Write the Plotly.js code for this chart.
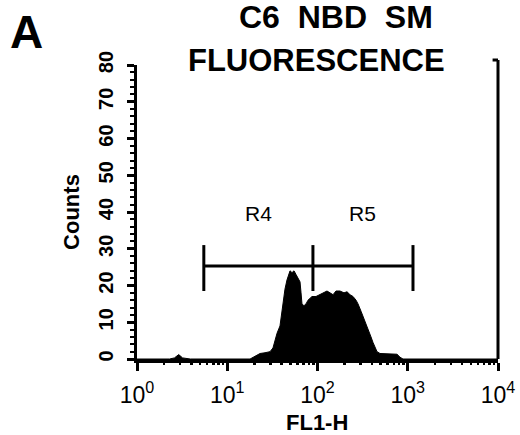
<!DOCTYPE html>
<html>
<head>
<meta charset="utf-8">
<script src="https://cdn.plot.ly/plotly-3.0.1.min.js"></script>
<style>
  html, body { margin: 0; padding: 0; background: #fff; }
  #graph { width: 520px; height: 435px; }
</style>
</head>
<body>
<div id="graph"></div>
<script>
// FL1-H channel values (log scale) and counts
const fl1h = [1, 2.3, 2.6, 2.9, 3.2, 3.9, 17.9, 20.3, 23.1, 26.2, 29.8, 32.1, 33.8,
    35.6, 38.4, 40.4, 41.5, 43.6, 45.9, 48.3, 49.6, 52.2, 54.9, 57.8, 60.8, 64.0,
    65.7, 67.3, 70.8, 74.6, 78.5, 82.6, 86.9, 96.2, 106.6, 118.0, 127.4, 137.6,
    148.6, 160.3, 177.5, 196.6, 212.3, 229.3, 247.6, 267.4, 281.2, 303.6, 319.3,
    344.7, 362.8, 391.7, 412.1, 433.6, 456.3, 492.7, 635.6, 760.3, 820.4, 885.4, 10000];
const counts = [0, 0, 0.3, 1.2, 0.3, 0, 0, 0.8, 1.5, 1.7, 2, 3, 5,
    7, 9, 13, 16, 19, 21.5, 23.5, 24, 23.5, 24, 23, 22, 21,
    18, 15, 14.5, 15, 16, 16.5, 17, 17, 17.5, 18, 18.5, 18,
    17.5, 18.5, 18.5, 18, 18.3, 17.5, 17, 16, 15, 13, 11.5,
    9.5, 8, 6, 4.5, 3, 2, 1.5, 1.5, 1.3, 0.5, 0, 0];

// gate markers R4 / R5
const gateNames = ['R4', 'R5'];
const gateEdges = [5.5, 89, 1143];
const gateLevel = 25.3;
const gateTickLow = 18.5;
const gateTickHigh = 31;

const xTickVals = [1, 10, 100, 1000, 10000];
const xTickText = ['10<sup>0</sup>', '10<sup>1</sup>', '10<sup>2</sup>', '10<sup>3</sup>', '10<sup>4</sup>'];
const yTickVals = [0, 10, 20, 30, 40, 50, 60, 70, 80];

function minorLogTicks() {
    let vals = [];
    for (let d = 1; d < 10000; d *= 10) {
        for (let k = 2; k <= 9; k++) vals.push(k * d);
    }
    return vals;
}

function gateTrace() {
    let x = [gateEdges[0], gateEdges[gateEdges.length - 1], null];
    let y = [gateLevel, gateLevel, null];
    gateEdges.forEach(e => {
        x.push(e, e, null);
        y.push(gateTickLow, gateTickHigh, null);
    });
    return {
        x: x, y: y, mode: 'lines',
        xaxis: 'x2',
        line: {color: 'black', width: 3},
        hoverinfo: 'none',
    };
}

const histTrace = {
    x: fl1h,
    y: counts,
    mode: 'lines',
    fill: 'tozeroy',
    fillcolor: 'black',
    line: {color: 'black', width: 1},
    hoverinfo: 'none',
};

const font = 'Liberation Sans, Arial, sans-serif';

// pixel helpers for the paper-positioned texts
const px = x => (x - 137) / 361;
const py = y => 1 - (y - 65) / 294;

let annotations = [
    {text: 'A', x: 8, y: 4, size: 46, xa: 'left', ya: 'top'},
    {text: 'C6&nbsp; NBD&nbsp; SM', x: 336, y: 17, size: 32, xa: 'center', ya: 'middle'},
    {text: 'FLUORESCENCE', x: 316, y: 60, size: 31, xa: 'center', ya: 'middle'},
    {text: 'FL1-H', x: 317, y: 422, size: 22, xa: 'center', ya: 'middle'},
].map(a => ({
    text: a.text, xref: 'paper', yref: 'paper', showarrow: false,
    x: px(a.x), y: py(a.y), xanchor: a.xa, yanchor: a.ya,
    font: {family: font, color: 'black', size: a.size, weight: 'bold'},
}));

gateNames.forEach((name, i) => {
    annotations.push({
        text: name, xref: 'x', yref: 'y', showarrow: false,
        x: (Math.log10(gateEdges[i]) + Math.log10(gateEdges[i + 1])) / 2,
        y: 39.5,
        font: {family: font, color: 'black', size: 21},
    });
});

const layout = {
    width: 520,
    height: 435,
    margin: {l: 137, r: 22, t: 65, b: 76},
    paper_bgcolor: 'white',
    plot_bgcolor: 'white',
    showlegend: false,
    xaxis: {
        type: 'log',
        range: [0, 4],
        tickmode: 'array',
        tickvals: xTickVals,
        ticktext: xTickText,
        ticks: 'outside',
        ticklen: 8,
        tickwidth: 3,
        tickcolor: 'black',
        ticklabelstandoff: 4,
        showline: true,
        linewidth: 4,
        linecolor: 'black',
        showgrid: false,
        zeroline: false,
        tickfont: {family: font, size: 23, color: 'black'},
    },
    // second bottom axis carrying the minor decade ticks
    xaxis2: {
        type: 'log',
        range: [0, 4],
        overlaying: 'x',
        side: 'bottom',
        anchor: 'y',
        tickmode: 'array',
        tickvals: minorLogTicks(),
        ticks: 'outside',
        ticklen: 5,
        tickwidth: 2.5,
        tickcolor: 'black',
        showticklabels: false,
        showline: false,
        showgrid: false,
        zeroline: false,
    },
    yaxis: {
        range: [0, 80],
        tickmode: 'array',
        tickvals: yTickVals,
        ticks: 'outside',
        ticklen: 7,
        tickwidth: 3,
        tickcolor: 'black',
        tickangle: -90,
        ticklabelstandoff: 6,
        minor: {dtick: 2, ticks: 'outside', ticklen: 4, tickwidth: 2, tickcolor: 'black'},
        showline: true,
        linewidth: 3,
        linecolor: 'black',
        showgrid: false,
        zeroline: false,
        tickfont: {family: font, size: 20, color: 'black', weight: 'bold'},
        title: {text: 'Counts', font: {family: font, size: 22, color: 'black', weight: 'bold'}, standoff: 10},
    },
    shapes: [{
        type: 'line', xref: 'paper', yref: 'paper',
        x0: 1, x1: 1, y0: 0, y1: 1.017,
        line: {color: 'black', width: 3},
    }, {
        type: 'line', xref: 'paper', yref: 'paper',
        x0: 0.985, x1: 1, y0: 1.017, y1: 1.017,
        line: {color: 'black', width: 3},
    }],
    annotations: annotations,
};

Plotly.newPlot('graph', [histTrace, gateTrace()], layout, {displayModeBar: false, staticPlot: true});
</script>
</body>
</html>
